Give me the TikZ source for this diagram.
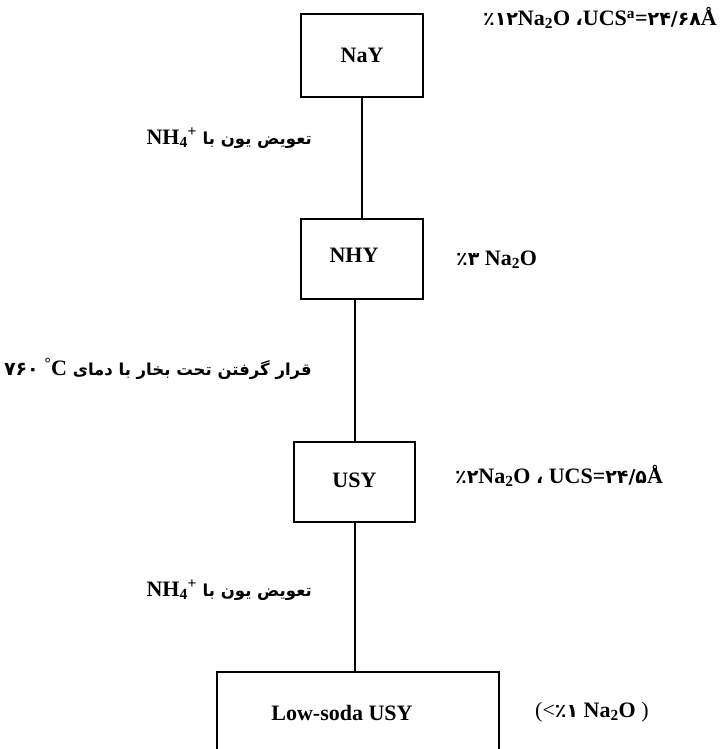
\documentclass[tikz,border=0pt]{standalone}
\usepackage{fontspec}
\setmainfont{Liberation Serif}
\TeXXeTstate=1
\newfontfamily\arabicfont[Script=Arabic]{DejaVu Sans}
\newfontfamily\pfont{DejaVu Sans}
\newcommand\pd[1]{{\pfont\bfseries\fontsize{19}{22}\selectfont #1}}
\newcommand\fa{\arabicfont\bfseries\fontsize{16.5}{20}\selectfont}
\newcommand\lat{\rmfamily\bfseries\fontsize{22}{26}\selectfont}
\tikzset{
  box/.style={draw, line width=2pt, inner sep=0pt, font=\bfseries\fontsize{22}{26}\selectfont},
  conn/.style={line width=2pt},
  lab/.style={inner sep=0pt, font=\bfseries\fontsize{22}{26}\selectfont}
}
\begin{document}
\begin{tikzpicture}[x=1pt,y=-1pt]
\useasboundingbox (0,0) rectangle (725,749);
\node[box, minimum width=122pt, minimum height=83pt] (nay) at (362,55.5) {NaY};
\node[box, minimum width=122pt, minimum height=80pt] (nhy) at (362,259) {\hspace*{-16pt}\raisebox{7pt}{NHY}};
\node[box, minimum width=121pt, minimum height=80pt] (usy) at (354.5,482) {\raisebox{3pt}{USY}};
\node[box, minimum width=282pt, minimum height=100pt] (low) at (358,722) {\hspace*{-32pt}\raisebox{19pt}{Low-soda USY}};
\draw[conn] (nay) -- (nhy);
\draw[conn] (nhy.south -| usy.north) -- (usy.north);
\draw[conn] (usy.south) -- (usy.south |- low.north);
\node[lab, anchor=west] (l1) at (483,18) {\pd{٪۱۲}Na\textsubscript{2}O \pd{،}UCS\textsuperscript{a}=\pd{۲۴/۶۸}Å};
\node[lab, anchor=east] (l2) at (312,138) {\fa\beginR تعویض یون با \beginL{\lat NH\textsubscript{4}\textsuperscript{+}}\endL\endR};
\node[lab, anchor=west] (l3) at (456,260) {\pd{٪۳} Na\textsubscript{2}O};
\node[lab, anchor=east] (l4) at (312,369) {\fa\beginR قرار گرفتن تحت بخار با دمای \beginL{\pd{۷۶۰} \lat\textsuperscript{\textdegree}C}\endL\endR};
\node[lab, anchor=west] (l5) at (455,476) {\pd{٪۲}Na\textsubscript{2}O \pd{،} UCS=\pd{۲۴/۵}Å};
\node[lab, anchor=east] (l6) at (312,590) {\fa\beginR تعویض یون با \beginL{\lat NH\textsubscript{4}\textsuperscript{+}}\endL\endR};
\node[lab, anchor=west] (l7) at (535,712) {\mdseries(<\pd{٪۱} \bfseries Na\textsubscript{2}O \mdseries)};
\end{tikzpicture}
\end{document}
